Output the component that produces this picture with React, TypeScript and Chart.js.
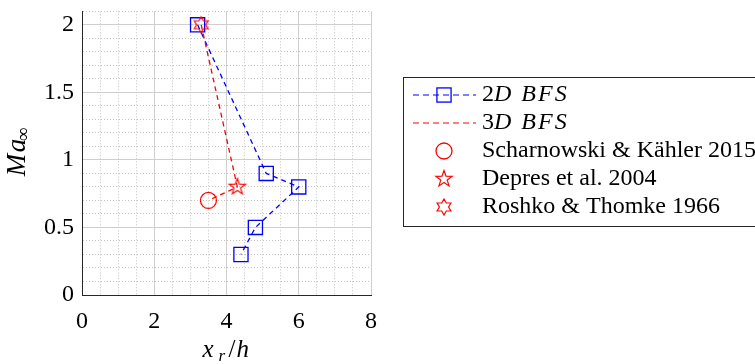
import React, { useEffect, useRef } from 'react';
import { Chart, registerables } from 'chart.js';

Chart.register(...registerables);

// ---- data ----
const xTickLabels = ['0', '2', '4', '6', '8'];
const yTickLabels = ['0', '0.5', '1', '1.5', '2'];

const seriesLabels = [
  '2D BFS',
  '3D BFS',
  'Scharnowski & Kähler 2015',
  'Depres et al. 2004',
  'Roshko & Thomke 1966',
];

const bfs2dX = [3.2, 5.1, 6.0, 4.8, 4.4];
const bfs2dY = [2.0, 0.9, 0.8, 0.5, 0.3];

const bfs3dX = [3.3, 4.3, 3.5];
const bfs3dY = [2.0, 0.8, 0.7];

const scharnowskiX = [3.5];
const scharnowskiY = [0.7];
const depresX = [4.3];
const depresY = [0.8];
const roshkoX = [3.3];
const roshkoY = [2.0];

// ---- styles ----
const FONT = "'Liberation Serif', 'DejaVu Serif', serif";
const BLUE = '#0000ff';
const RED = '#ff0000';
const AXIS = '#262626';
const GRID_MAJOR = '#cfcfcf';
const GRID_MINOR = '#c4c4c4';

const pts = (xs: number[], ys: number[]) => xs.map((x, i) => ({ x, y: ys[i] }));
const isMajor = (v: number, step: number) => {
  const q = v / step;
  return Math.abs(q - Math.round(q)) < 1e-6;
};

function makeStar(n: number, outer: number, inner: number, color: string, size: number) {
  const c = document.createElement('canvas');
  c.width = size;
  c.height = size;
  const g = c.getContext('2d')!;
  g.strokeStyle = color;
  g.lineWidth = 1.2;
  g.lineJoin = 'miter';
  g.beginPath();
  for (let i = 0; i < n * 2; i++) {
    const r = i % 2 === 0 ? outer : inner;
    const a = -Math.PI / 2 + (i * Math.PI) / n;
    const x = size / 2 + r * Math.cos(a);
    const y = size / 2 + r * Math.sin(a);
    if (i === 0) g.moveTo(x, y);
    else g.lineTo(x, y);
  }
  g.closePath();
  g.stroke();
  return c;
}

const titlesPlugin = {
  id: 'mathTitles',
  afterDraw(chart: any) {
    const { ctx, chartArea: ca } = chart;
    ctx.save();
    ctx.fillStyle = '#000';
    ctx.textBaseline = 'alphabetic';
    ctx.textAlign = 'left';
    // x title: x_r / h
    const cx = (ca.left + ca.right) / 2;
    const by = 357;
    ctx.font = `italic 25px ${FONT}`;
    ctx.fillText('x', cx - 24, by);
    ctx.font = `italic 17px ${FONT}`;
    ctx.fillText('r', cx - 8, by + 4);
    ctx.font = `25px ${FONT}`;
    ctx.fillText('/', cx + 2, by);
    ctx.font = `italic 25px ${FONT}`;
    ctx.fillText('h', cx + 10, by);
    // y title: Ma_inf
    const cy = (ca.top + ca.bottom) / 2;
    ctx.translate(25, cy);
    ctx.rotate(-Math.PI / 2);
    ctx.font = `italic 27px ${FONT}`;
    ctx.fillText('M', -23, 0);
    ctx.fillText('a', 1, 0);
    ctx.font = `19px ${FONT}`;
    ctx.fillText('∞', 12, 4);
    ctx.restore();
  },
};

const legendPlugin = {
  id: 'boxLegend',
  afterDraw(chart: any) {
    const { ctx } = chart;
    const left = 403, top = 77, bottom = 226, right = 762;
    ctx.save();
    ctx.fillStyle = '#fff';
    ctx.fillRect(left, top, right - left, bottom - top);
    ctx.strokeStyle = AXIS;
    ctx.lineWidth = 1;
    ctx.strokeRect(left + 0.5, top + 0.5, right - left, bottom - top);
    const datasets = chart.data.datasets;
    datasets.forEach((ds: any, i: number) => {
      const y = top + 18 + i * 28;
      const color = ds.borderColor;
      const mx = 444;
      if (ds.showLine) {
        ctx.strokeStyle = color;
        ctx.lineWidth = 1.2;
        ctx.setLineDash([6, 4]);
        ctx.beginPath();
        ctx.moveTo(413, y);
        ctx.lineTo(476, y);
        ctx.stroke();
        ctx.setLineDash([]);
      }
      const ps = ds.pointStyle;
      const pr = ds.pointRadius;
      if (pr > 0) {
        ctx.strokeStyle = color;
        ctx.lineWidth = 1.3;
        if (ps === 'rect') {
          const h = pr * Math.SQRT1_2;
          ctx.strokeRect(mx - h, y - h, 2 * h, 2 * h);
        } else if (ps === 'circle') {
          ctx.beginPath();
          ctx.arc(mx, y, pr, 0, Math.PI * 2);
          ctx.stroke();
        } else if (ps && typeof ps === 'object') {
          ctx.drawImage(ps, mx - ps.width / 2, y - ps.height / 2);
        }
      }
      ctx.fillStyle = '#000';
      ctx.textBaseline = 'middle';
      ctx.textAlign = 'left';
      const label: string = ds.label;
      const m = label.match(/^(\d)(D BFS)$/);
      if (m) {
        ctx.font = `24px ${FONT}`;
        ctx.fillText(m[1], 482, y);
        const w = ctx.measureText(m[1]).width;
        ctx.font = `italic 24px ${FONT}`;
        (ctx as any).letterSpacing = '2px';
        ctx.fillText(m[2], 482 + w, y);
        (ctx as any).letterSpacing = '0px';
      } else {
        ctx.font = `24px ${FONT}`;
        ctx.fillText(label, 482, y);
      }
    });
    ctx.restore();
  },
};

export default function App() {
  const ref = useRef<HTMLCanvasElement>(null);

  useEffect(() => {
    const canvas = ref.current!;
    const pent = makeStar(5, 8.5, 3.4, RED, 22);
    const hex = makeStar(6, 8, 4.6, RED, 20);

    const datasets: any[] = [
      {
        label: seriesLabels[0],
        data: pts(bfs2dX, bfs2dY),
        showLine: true,
        borderColor: BLUE,
        borderWidth: 1.3,
        borderDash: [5, 4],
        pointStyle: 'rect',
        pointRadius: 10,
        pointHoverRadius: 10,
        pointBorderColor: BLUE,
        pointBackgroundColor: 'rgba(0,0,0,0)',
        pointBorderWidth: 1.3,
        order: 5,
      },
      {
        label: seriesLabels[1],
        data: pts(bfs3dX, bfs3dY),
        showLine: true,
        borderColor: RED,
        borderWidth: 1.3,
        borderDash: [5, 4],
        pointRadius: 0,
        pointHoverRadius: 0,
        order: 4,
      },
      {
        label: seriesLabels[2],
        data: pts(scharnowskiX, scharnowskiY),
        showLine: false,
        borderColor: RED,
        pointStyle: 'circle',
        pointRadius: 8,
        pointHoverRadius: 8,
        pointBorderColor: RED,
        pointBackgroundColor: 'rgba(0,0,0,0)',
        pointBorderWidth: 1.2,
        order: 3,
      },
      {
        label: seriesLabels[3],
        data: pts(depresX, depresY),
        showLine: false,
        borderColor: RED,
        pointStyle: pent,
        pointRadius: 9,
        pointHoverRadius: 9,
        order: 2,
      },
      {
        label: seriesLabels[4],
        data: pts(roshkoX, roshkoY),
        showLine: false,
        borderColor: RED,
        pointStyle: hex,
        pointRadius: 9,
        pointHoverRadius: 9,
        order: 1,
      },
    ];

    const chart = new Chart(canvas, {
      type: 'scatter',
      data: { datasets },
      plugins: [titlesPlugin, legendPlugin],
      options: {
        animation: false,
        responsive: false,
        devicePixelRatio: 1,
        events: [],
        layout: { padding: { top: 5, right: 384, left: 0, bottom: 0 } },
        plugins: { legend: { display: false }, tooltip: { enabled: false } },
        scales: {
          x: {
            type: 'linear',
            min: 0,
            max: 8,
            afterFit: (s: any) => {
              s.height = 69;
              s.paddingLeft = 0;
              s.paddingRight = 0;
            },
            ticks: {
              stepSize: 0.5,
              autoSkip: false,
              maxRotation: 0,
              padding: 12,
              color: '#000',
              font: { family: FONT, size: 24 },
              callback: (v: any) => {
                const val = Number(v);
                return isMajor(val, 2) ? xTickLabels[Math.round(val / 2)] : '';
              },
            },
            grid: {
              drawTicks: false,
              lineWidth: 1,
              color: (c: any) => (c.tick && isMajor(c.tick.value, 2) ? GRID_MAJOR : GRID_MINOR),
            },
            border: {
              display: true,
              color: AXIS,
              width: 1,
              z: 1,
              dash: (c: any) => (c.tick && !isMajor(c.tick.value, 2) ? [1, 2] : []),
            },
          },
          y: {
            type: 'linear',
            min: 0,
            max: 2.1,
            afterFit: (s: any) => {
              s.width = 82;
              s.paddingTop = 0;
              s.paddingBottom = 0;
            },
            ticks: {
              stepSize: 0.1,
              autoSkip: false,
              padding: 8,
              color: '#000',
              font: { family: FONT, size: 24 },
              callback: (v: any) => {
                const val = Number(v);
                return isMajor(val, 0.5) ? yTickLabels[Math.round(val / 0.5)] : '';
              },
            },
            grid: {
              drawTicks: false,
              lineWidth: 1,
              color: (c: any) => (c.tick && isMajor(c.tick.value, 0.5) ? GRID_MAJOR : GRID_MINOR),
            },
            border: {
              display: true,
              color: AXIS,
              width: 1,
              z: 1,
              dash: (c: any) => (c.tick && !isMajor(c.tick.value, 0.5) ? [1, 2] : []),
            },
          },
        },
      } as any,
    });

    return () => chart.destroy();
  }, []);

  return (
    <div style={{ position: 'fixed', left: 0, top: 0, width: 755, height: 364, background: '#fff' }}>
      <canvas ref={ref} width={755} height={364} style={{ width: 755, height: 364, display: 'block' }} />
    </div>
  );
}
